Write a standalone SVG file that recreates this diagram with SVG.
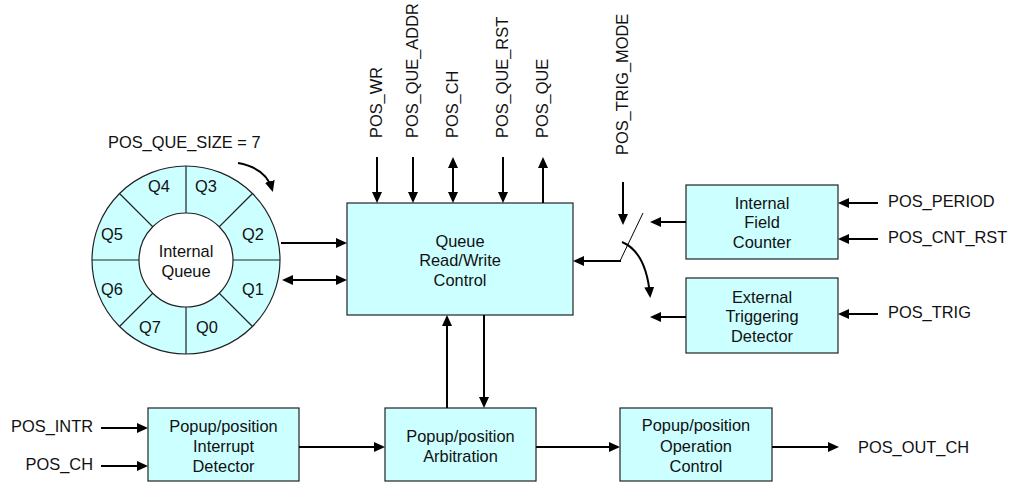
<svg xmlns="http://www.w3.org/2000/svg" width="1010" height="483" viewBox="0 0 1010 483">
<defs>
<style>
text{font-family:"Liberation Sans",Arial,sans-serif;font-size:16.4px;fill:#111}
.c{text-anchor:middle}
.e{text-anchor:end}
.box{fill:#CCFFFF;stroke:#222;stroke-width:1.2}
.ln{fill:none;stroke:#000;stroke-width:2}
.thin{fill:none;stroke:#000;stroke-width:1}
.a{marker-end:url(#ah)}
.b{marker-start:url(#ah);marker-end:url(#ah)}
</style>
<marker id="ah" markerUnits="userSpaceOnUse" markerWidth="13" markerHeight="11" refX="8" refY="5" orient="auto-start-reverse"><path d="M0,0 L11,5 L0,10 z" fill="#000"/></marker>
</defs>
<rect width="1010" height="483" fill="#fff"/>

<g id="internal-queue">
<circle cx="186" cy="260" r="94" fill="#CCFFFF" stroke="#222" stroke-width="1.2"/>
<g stroke="#222" stroke-width="1.2">
<line x1="186" y1="166" x2="186" y2="354"/>
<line x1="92" y1="260" x2="280" y2="260"/>
<line x1="119.5" y1="193.5" x2="252.5" y2="326.5"/>
<line x1="252.5" y1="193.5" x2="119.5" y2="326.5"/>
</g>
<circle cx="186" cy="260" r="47" fill="#fff" stroke="#222" stroke-width="1.2"/>
<text class="c" x="186" y="257">Internal</text>
<text class="c" x="186" y="277">Queue</text>
<text class="c" x="159" y="192">Q4</text>
<text class="c" x="206" y="192">Q3</text>
<text class="c" x="253" y="240">Q2</text>
<text class="c" x="112" y="240">Q5</text>
<text class="c" x="112" y="295">Q6</text>
<text class="c" x="253" y="295">Q1</text>
<text class="c" x="150" y="333">Q7</text>
<text class="c" x="207" y="333">Q0</text>
<text x="108" y="148">POS_QUE_SIZE = 7</text>
</g>

<g id="queue-rw-control">
<rect class="box" x="347" y="203" width="226" height="112"/>
<text class="c" x="460" y="247">Queue</text>
<text class="c" x="460" y="266">Read/Write</text>
<text class="c" x="460" y="286">Control</text>
</g>

<g id="internal-field-counter">
<rect class="box" x="686" y="185" width="152" height="74"/>
<text class="c" x="762" y="209">Internal</text>
<text class="c" x="762" y="228">Field</text>
<text class="c" x="762" y="248">Counter</text>
</g>

<g id="external-triggering-detector">
<rect class="box" x="686" y="278" width="152" height="75"/>
<text class="c" x="762" y="303">External</text>
<text class="c" x="762" y="322">Triggering</text>
<text class="c" x="762" y="342">Detector</text>
</g>

<g id="interrupt-detector">
<rect class="box" x="148" y="408" width="151" height="73"/>
<text class="c" x="223.5" y="432">Popup/position</text>
<text class="c" x="223.5" y="452">Interrupt</text>
<text class="c" x="223.5" y="472">Detector</text>
</g>

<g id="arbitration">
<rect class="box" x="385" y="408" width="151" height="73"/>
<text class="c" x="460.5" y="442">Popup/position</text>
<text class="c" x="460.5" y="462">Arbitration</text>
</g>

<g id="operation-control">
<rect class="box" x="620" y="408" width="152" height="73"/>
<text class="c" x="696" y="431">Popup/position</text>
<text class="c" x="696" y="452">Operation</text>
<text class="c" x="696" y="472">Control</text>
</g>

<g id="labels">
<text transform="translate(382,138) rotate(-90)">POS_WR</text>
<text transform="translate(418,138) rotate(-90)">POS_QUE_ADDR</text>
<text transform="translate(458,138) rotate(-90)">POS_CH</text>
<text transform="translate(508,138) rotate(-90)">POS_QUE_RST</text>
<text transform="translate(548,138) rotate(-90)">POS_QUE</text>
<text transform="translate(628,155) rotate(-90)">POS_TRIG_MODE</text>
<text x="888" y="207">POS_PERIOD</text>
<text x="888" y="243">POS_CNT_RST</text>
<text x="888" y="318">POS_TRIG</text>
<text class="e" x="93" y="432">POS_INTR</text>
<text class="e" x="93" y="470">POS_CH</text>
<text x="858" y="453">POS_OUT_CH</text>
</g>

<g id="connectors">
<path class="ln a" d="M238,163 Q266,168 272,189"/>
<line class="ln a" x1="281" y1="243" x2="344" y2="243"/>
<line class="ln b" x1="285" y1="280" x2="344" y2="280"/>
<line class="ln a" x1="377" y1="157" x2="377" y2="200"/>
<line class="ln a" x1="413" y1="157" x2="413" y2="200"/>
<line class="ln b" x1="453" y1="160" x2="453" y2="200"/>
<line class="ln a" x1="503" y1="157" x2="503" y2="200"/>
<line class="ln a" x1="543" y1="203" x2="543" y2="160"/>
<line class="ln a" x1="621" y1="261" x2="576" y2="261"/>
<line class="thin" x1="620" y1="261" x2="643" y2="213"/>
<line class="ln a" x1="623" y1="182" x2="623" y2="222"/>
<path class="ln a" d="M622,242 Q646,252 650,295"/>
<line class="ln a" x1="686" y1="222" x2="653" y2="222"/>
<line class="ln a" x1="686" y1="317" x2="653" y2="317"/>
<line class="ln a" x1="878" y1="203" x2="841" y2="203"/>
<line class="ln a" x1="878" y1="239" x2="841" y2="239"/>
<line class="ln a" x1="878" y1="314" x2="841" y2="314"/>
<line class="ln a" x1="447" y1="408" x2="447" y2="318"/>
<line class="ln a" x1="484" y1="315" x2="484" y2="405"/>
<line class="ln a" x1="101" y1="428" x2="145" y2="428"/>
<line class="ln a" x1="101" y1="466" x2="145" y2="466"/>
<line class="ln a" x1="299" y1="447" x2="382" y2="447"/>
<line class="ln a" x1="536" y1="447" x2="617" y2="447"/>
<line class="ln a" x1="772" y1="447" x2="836" y2="447"/>
</g>
</svg>
